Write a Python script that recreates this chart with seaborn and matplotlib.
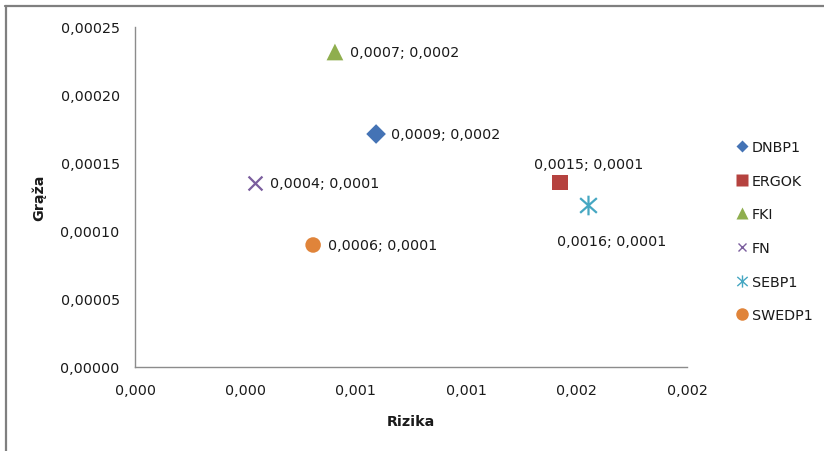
import matplotlib
matplotlib.use("Agg")
import matplotlib.pyplot as plt
from matplotlib.lines import Line2D
from matplotlib.path import Path
import seaborn as sns
import pandas as pd

# Risk (Rizika) vs. return (Grąža) per instrument
names = ["DNBP1", "ERGOK", "FKI", "FN", "SEBP1", "SWEDP1"]
rizika = [0.000873, 0.001539, 0.000724, 0.000435, 0.001639, 0.000645]
graza = [0.0001711, 0.0001357, 0.0002314, 0.0001351, 0.0001191, 0.0000895]

x_ticks = [0.0, 0.0004, 0.0008, 0.0012, 0.0016, 0.0020]
y_ticks = [0.0, 0.00005, 0.00010, 0.00015, 0.00020, 0.00025]

colors = ["#4473B5", "#B5423F", "#8FAE4E", "#7B5E9E", "#46A7C2", "#E0843A"]

# Excel-style star: vertical bar plus a cross
star = Path([(0, -1), (0, 1), (-0.85, -0.75), (0.85, 0.75), (-0.85, 0.75), (0.85, -0.75)],
            [Path.MOVETO, Path.LINETO, Path.MOVETO, Path.LINETO, Path.MOVETO, Path.LINETO])
markers = ["D", "s", "^", "x", star, "o"]
sizes = [100, 120, 145, 100, 200, 125]
filled = [True, True, True, False, False, True]

# label placement (offset in points, horizontal alignment)
lab_pos = [((11, 0), "left"),
           ((21, 13), "center"),
           ((11, 0), "left"),
           ((11, 0), "left"),
           ((17, -26), "center"),
           ((11, 0), "left")]

df = pd.DataFrame({"name": names, "rizika": rizika, "graza": graza})

sns.set_theme(style="white")
plt.rcParams["font.family"] = ["DejaVu Sans"]
FS = 10.3

fig = plt.figure(figsize=(8.24, 4.52), dpi=100)
ax = fig.add_axes([135 / 824, (452 - 367.7) / 452, (687.3 - 135) / 824, (367.7 - 27.7) / 452])

for i, row in df.iterrows():
    kw = dict(x=[row.rizika], y=[row.graza], marker=markers[i], s=sizes[i], ax=ax,
              color=colors[i], zorder=3, legend=False)
    if filled[i]:
        sns.scatterplot(edgecolor="none", **kw)
    else:
        sns.scatterplot(edgecolor=colors[i], linewidth=1.6, **kw)
    (dx, dy), ha = lab_pos[i]
    txt = f"{row.rizika:.4f}; {row.graza:.4f}".replace(".", ",")
    ax.annotate(txt, (row.rizika, row.graza), xytext=(dx, dy), textcoords="offset points",
                ha=ha, va="center", fontsize=FS, color="#1a1a1a")

ax.set_xlim(0, 0.002)
ax.set_ylim(0, 0.00025)
ax.set_xticks(x_ticks)
ax.set_yticks(y_ticks)
ax.set_xticklabels([f"{v:.3f}".replace(".", ",") for v in x_ticks], fontsize=FS, color="#1a1a1a")
ax.set_yticklabels([f"{v:.5f}".replace(".", ",") for v in y_ticks], fontsize=FS, color="#1a1a1a")

spine_c = "#8C8C8C"
for s in ["top", "right"]:
    ax.spines[s].set_visible(False)
for s in ["left", "bottom"]:
    ax.spines[s].set_color(spine_c)
    ax.spines[s].set_linewidth(1.0)
ax.tick_params(axis="both", direction="out", length=4, width=1.0, color=spine_c)
ax.tick_params(axis="y", pad=7)
ax.tick_params(axis="x", pad=8)
ax.grid(False)

ax.set_xlabel("Rizika", fontsize=FS, fontweight="bold", color="#1a1a1a", labelpad=12)
ax.set_ylabel("Grąža", fontsize=FS, fontweight="bold", color="#1a1a1a", labelpad=10)

# legend
handles = []
leg_sizes = [6.5, 8.5, 8.5, 8, 11, 9]
for i, n in enumerate(names):
    if filled[i]:
        h = Line2D([], [], linestyle="none", marker=markers[i], color=colors[i],
                   markeredgecolor="none", markersize=leg_sizes[i])
    else:
        h = Line2D([], [], linestyle="none", marker=markers[i], color=colors[i],
                   markeredgewidth=1.0, markersize=leg_sizes[i] * 0.8)
    handles.append(h)
fig.legend(handles, names, loc="upper left", bbox_to_anchor=(729 / 824, 1 - 134 / 452),
           frameon=False, fontsize=FS, labelspacing=1.37, handlelength=0.8,
           handletextpad=0.3, borderpad=0, labelcolor="#1a1a1a")

# chart frame (top and left edges)
fig.add_artist(Line2D([5 / 824, 1], [1 - 6.5 / 452, 1 - 6.5 / 452], transform=fig.transFigure,
                      color="#7F7F7F", linewidth=1.6))
fig.add_artist(Line2D([5.5 / 824, 5.5 / 824], [0, 1 - 6.5 / 452], transform=fig.transFigure,
                      color="#7F7F7F", linewidth=1.6))

fig.savefig("out.png", dpi=100, facecolor="white")
